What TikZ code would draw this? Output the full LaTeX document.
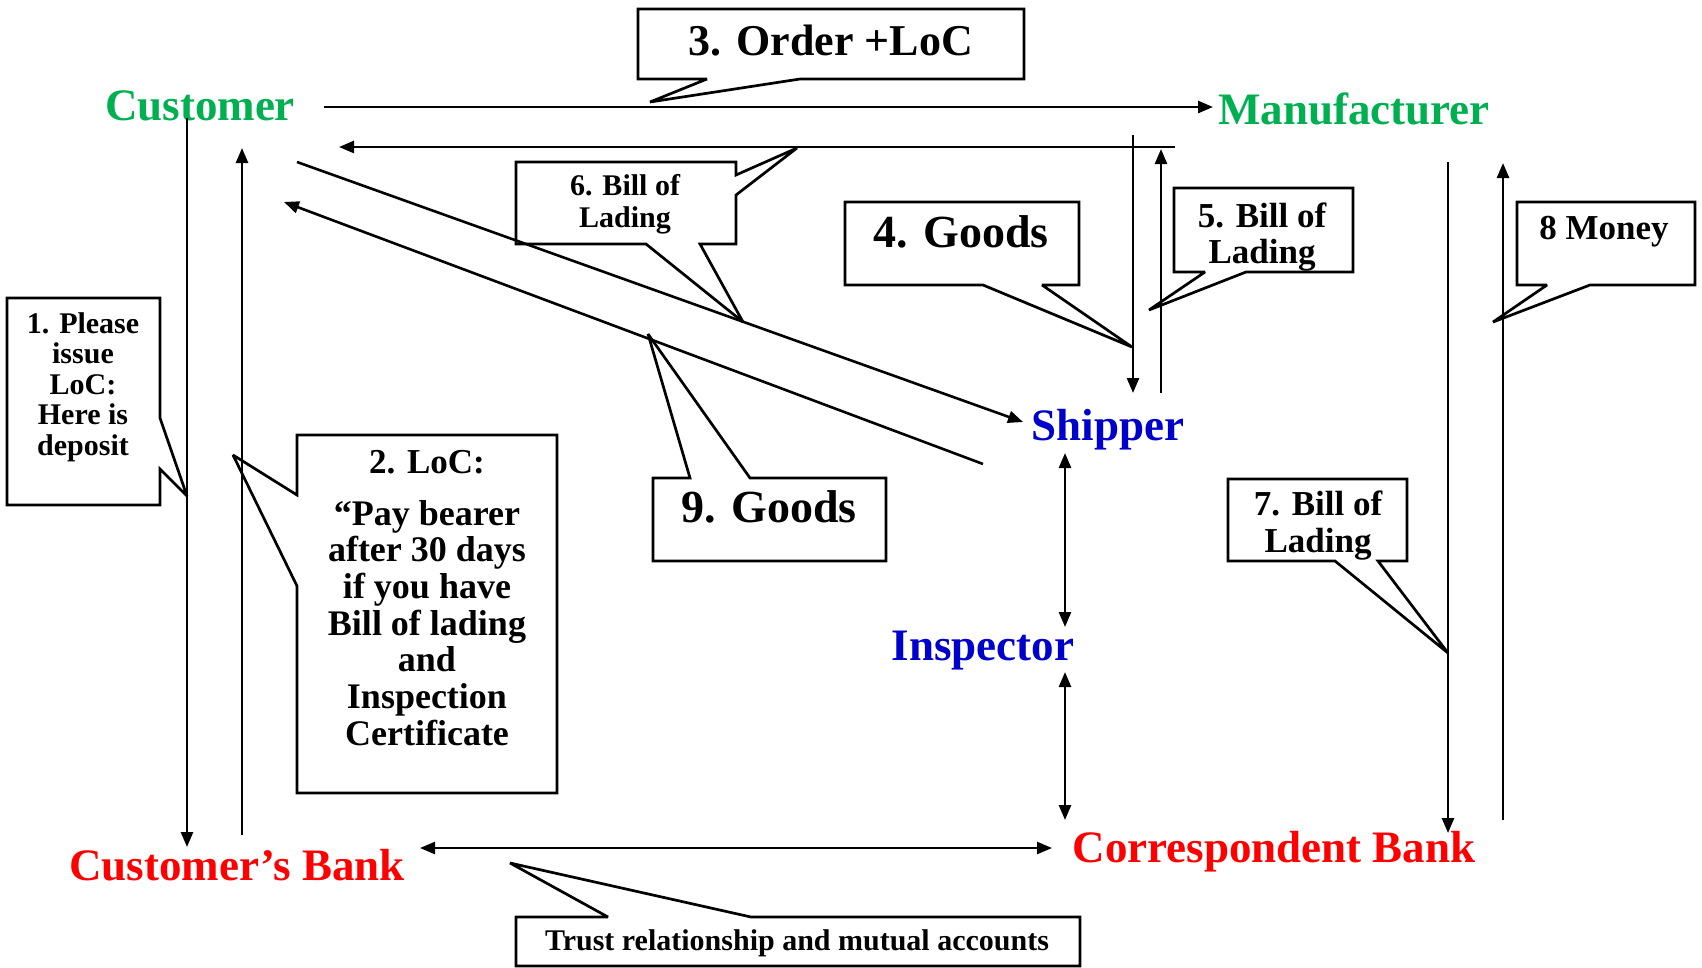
\documentclass[tikz,border=0pt]{standalone}
\usepackage{fontspec}
\setmainfont{Liberation Serif}
\usetikzlibrary{arrows.meta}
\definecolor{partygreen}{RGB}{0,176,80}
\definecolor{bankred}{RGB}{255,0,0}
\definecolor{agentblue}{RGB}{0,0,204}
\newcommand\setfs[2]{\fontsize{#1}{#2}\selectfont}
\tikzset{
  party/.style={font=\bfseries\setfs{45}{50}, inner sep=0pt, anchor=base},
  flow/.style={line width=2.6pt, -{Triangle[length=15pt,width=12pt]}},
  twoway/.style={line width=2.6pt, {Triangle[length=15pt,width=12pt]}-{Triangle[length=15pt,width=12pt]}},
  callout/.style={draw, fill=white, line width=2.7pt, line join=miter, miter limit=3},
  note/.style={inner sep=0pt, align=center}
}
\begin{document}
\begin{tikzpicture}[x=1pt, y=-1pt]
\useasboundingbox (0,0) rectangle (1702,967);

% parties
\node[party, text=partygreen] (customer) at (200,120) {Customer};
\node[party, text=partygreen] (manufacturer) at (1354,124) {Manufacturer};
\node[party, text=agentblue] (shipper) at (1108,440) {Shipper};
\node[party, text=agentblue] (inspector) at (983,660) {Inspector};
\node[party, text=bankred] (custbank) at (237,880) {Customer’s Bank};
\node[party, text=bankred] (corrbank) at (1274,862) {Correspondent Bank};

% callouts
\filldraw[callout] (7,298) -- (160,298) -- (160,418) -- (187,496) -- (160,469) -- (160,505) -- (7,505) -- cycle;
\node[note, anchor=north, font=\bfseries\setfs{30}{30.5}] (n1) at (83,312) {1. Please\\issue\\LoC:\\Here is\\deposit};

\filldraw[callout] (297,435) -- (557,435) -- (557,793) -- (297,793) -- (297,586) -- (233,455) -- (297,495) -- cycle;
\node[note, anchor=base, font=\bfseries\setfs{35}{36.7}] (n2a) at (427,473) {2. LoC:};
\node[note, anchor=north, font=\bfseries\setfs{36}{36.7}] (n2b) at (427,500) {“Pay bearer\\after 30 days\\if you have\\Bill of lading\\and\\Inspection\\Certificate};

\filldraw[callout] (638,9) -- (1024,9) -- (1024,79) -- (800,79) -- (650,102) -- (707,79) -- (638,79) -- cycle;
\node[note, anchor=base, font=\bfseries\setfs{44}{48}] (n3) at (831,55) {3. Order +LoC};

\filldraw[callout] (845,202) -- (1079,202) -- (1079,285) -- (1042,285) -- (1132,347) -- (983,285) -- (845,285) -- cycle;
\node[note, anchor=base, font=\bfseries\setfs{46}{50}] (n4) at (961,247) {4. Goods};

\filldraw[callout] (1174,188) -- (1353,188) -- (1353,272) -- (1246,272) -- (1149,310) -- (1205,272) -- (1174,272) -- cycle;
\node[note, anchor=north, font=\bfseries\setfs{35}{36}] (n5) at (1262,203) {5. Bill of\\Lading};

\filldraw[callout] (516,162) -- (736,162) -- (736,175) -- (797,148) -- (736,195) -- (736,244) -- (700,244) -- (743,322) -- (646,244) -- (516,244) -- cycle;
\node[note, anchor=north, font=\bfseries\setfs{30}{32}] (n6) at (625,174) {6. Bill of\\Lading};

\filldraw[callout] (1228,479) -- (1407,479) -- (1407,561) -- (1378,561) -- (1448,653) -- (1335,561) -- (1228,561) -- cycle;
\node[note, anchor=north, font=\bfseries\setfs{35}{37}] (n7) at (1318,491) {7. Bill of\\Lading};

\filldraw[callout] (1517,202) -- (1695,202) -- (1695,285) -- (1590,285) -- (1493,322) -- (1547,285) -- (1517,285) -- cycle;
\node[note, anchor=base, font=\bfseries\setfs{35}{40}] (n8) at (1604,239) {8 Money};

\filldraw[callout] (653,478) -- (690,478) -- (648,334) -- (750,478) -- (886,478) -- (886,561) -- (653,561) -- cycle;
\node[note, anchor=base, font=\bfseries\setfs{46}{50}] (n9) at (769,522) {9. Goods};

\filldraw[callout] (516,917) -- (608,917) -- (510,863) -- (751,917) -- (1080,917) -- (1080,966) -- (516,966) -- cycle;
\node[note, anchor=base, font=\bfseries\setfs{30}{34}] (n10) at (797,950) {Trust relationship and mutual accounts};

% connector ends
\coordinate (c-out) at (324,107);   \coordinate (m-in) at (1213,107);
\coordinate (m-out) at (1175,147);  \coordinate (c-in) at (339,147);
\coordinate (m-down) at (1133,135); \coordinate (s-top) at (1133,393);
\coordinate (s-up) at (1161,393);   \coordinate (m-low) at (1161,149);
\coordinate (c-down) at (187,118);  \coordinate (cb-top) at (187,847);
\coordinate (cb-up) at (242,835);   \coordinate (c-low) at (242,148);
\coordinate (c-diag) at (297,162);  \coordinate (s-left) at (1023,422);
\coordinate (s-diag) at (983,464);  \coordinate (c-diag2) at (284,202);
\coordinate (s-bot) at (1065,453);  \coordinate (i-top) at (1065,627);
\coordinate (i-bot) at (1065,672);  \coordinate (kb-top) at (1065,820);
\coordinate (cb-right) at (420,848); \coordinate (kb-left) at (1052,848);
\coordinate (m-right) at (1448,162); \coordinate (kb-in) at (1448,833);
\coordinate (kb-up) at (1503,820);  \coordinate (m-in2) at (1503,163);

% flows
\draw[flow] (c-out) -- (m-in);
\draw[flow] (m-out) -- (c-in);
\draw[flow] (m-down) -- (s-top);
\draw[flow] (s-up) -- (m-low);
\draw[flow] (c-down) -- (cb-top);
\draw[flow] (cb-up) -- (c-low);
\draw[flow] (c-diag) -- (s-left);
\draw[flow] (s-diag) -- (c-diag2);
\draw[twoway] (s-bot) -- (i-top);
\draw[twoway] (i-bot) -- (kb-top);
\draw[twoway] (cb-right) -- (kb-left);
\draw[flow] (m-right) -- (kb-in);
\draw[flow] (kb-up) -- (m-in2);
\end{tikzpicture}
\end{document}
